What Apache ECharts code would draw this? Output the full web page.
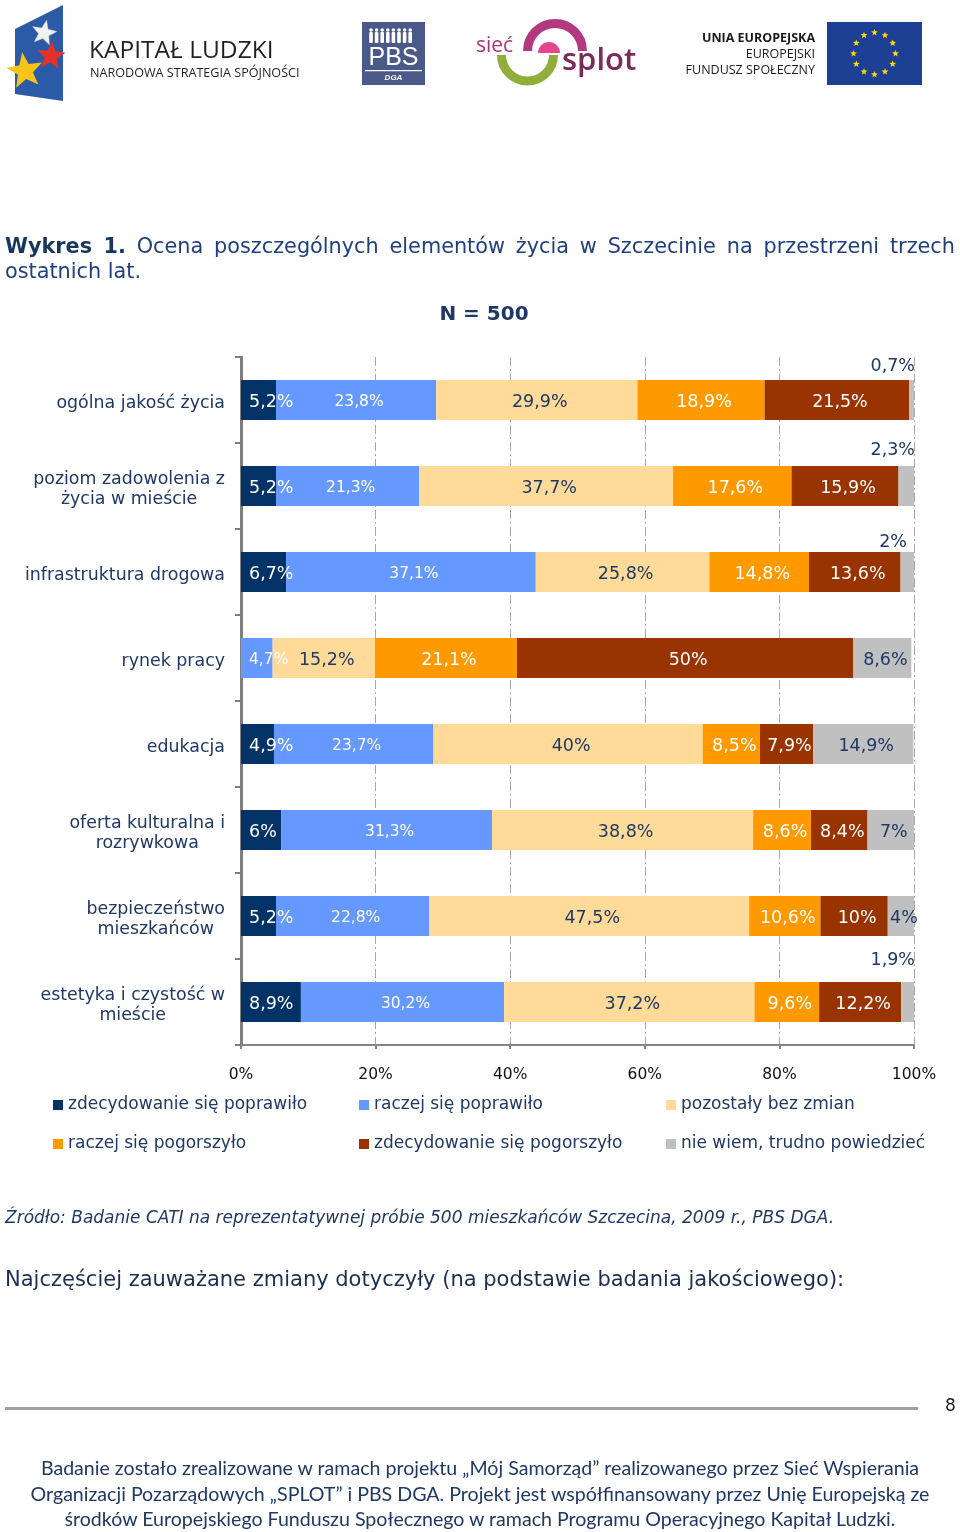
<!DOCTYPE html>
<html>
<head>
<meta charset="utf-8">
<script src="https://cdn.jsdelivr.net/npm/echarts@6/dist/echarts.min.js"></script>
<style>
html,body{margin:0;padding:0;background:#fff;}
#page{position:relative;width:960px;height:1532px;overflow:hidden;background:#fff;}
#chart{position:absolute;left:0;top:0;width:960px;height:1532px;}
.t{position:absolute;font-family:'DejaVu Sans',sans-serif;margin:0;white-space:nowrap;}
#title{left:5px;top:234px;width:950px;font-size:20.8px;line-height:25px;color:#1f3f7f;text-align:justify;white-space:normal;}
#title b{color:#17375e;}
#source{left:5px;top:1207px;font-size:17px;line-height:20px;font-style:italic;color:#1f3864;}
#najcz{left:5px;top:1266px;font-size:21px;line-height:26px;color:#1c2f50;}
#rule{position:absolute;left:5px;top:1407px;width:913px;height:3px;background:#a0a0a0;}
#pnum{left:945px;top:1395px;font-size:17px;line-height:20px;color:#222;}
#footer{left:0;top:1455px;width:960px;text-align:center;font-family:'Lato','Open Sans',sans-serif;font-size:19.6px;line-height:25.5px;color:#1f3864;}
</style>
</head>
<body>
<div id="page">
  <div id="chart"></div>
  <div class="t" id="title"><b>Wykres 1.</b> Ocena poszczególnych elementów życia w Szczecinie na przestrzeni trzech ostatnich lat.</div>
  <div class="t" id="source">Źródło: Badanie CATI na reprezentatywnej próbie 500 mieszkańców Szczecina, 2009 r., PBS DGA.</div>
  <div class="t" id="najcz">Najczęściej zauważane zmiany dotyczyły (na podstawie badania jakościowego):</div>
  <div id="rule"></div>
  <div class="t" id="pnum">8</div>
  <div class="t" id="footer">Badanie zostało zrealizowane w ramach projektu „Mój Samorząd” realizowanego przez Sieć Wspierania<br>Organizacji Pozarządowych „SPLOT” i PBS DGA. Projekt jest współfinansowany przez Unię Europejską ze<br>środków Europejskiego Funduszu Społecznego w ramach Programu Operacyjnego Kapitał Ludzki.</div>
</div>
<script>
// ---------- DATA ----------
const categories = [
  'ogólna jakość życia',
  'poziom zadowolenia z\nżycia w mieście',
  'infrastruktura drogowa',
  'rynek pracy',
  'edukacja',
  'oferta kulturalna i\nrozrywkowa',
  'bezpieczeństwo\nmieszkańców',
  'estetyka i czystość w\nmieście'
];
const seriesNames = [
  'zdecydowanie się poprawiło',
  'raczej się poprawiło',
  'pozostały bez zmian',
  'raczej się pogorszyło',
  'zdecydowanie się pogorszyło',
  'nie wiem, trudno powiedzieć'
];
const zdecydowaniePoprawilo = [5.2, 5.2, 6.7, null, 4.9, 6, 5.2, 8.9];
const raczejPoprawilo       = [23.8, 21.3, 37.1, 4.7, 23.7, 31.3, 22.8, 30.2];
const bezZmian              = [29.9, 37.7, 25.8, 15.2, 40, 38.8, 47.5, 37.2];
const raczejPogorszylo      = [18.9, 17.6, 14.8, 21.1, 8.5, 8.6, 10.6, 9.6];
const zdecydowaniePogorszylo= [21.5, 15.9, 13.6, 50, 7.9, 8.4, 10, 12.2];
const nieWiem               = [0.7, 2.3, 2, 8.6, 14.9, 7, 4, 1.9];
const xTickValues = [0, 20, 40, 60, 80, 100];

// ---------- STYLE ----------
const seriesValues = [zdecydowaniePoprawilo, raczejPoprawilo, bezZmian, raczejPogorszylo, zdecydowaniePogorszylo, nieWiem];
const colors = ['#033366', '#6699FF', '#FFDA98', '#FF9900', '#993300', '#C0C0C0'];
const labelColors = ['#ffffff', '#ffffff', '#1f3864', '#ffffff', '#ffffff', '#1f3864'];
const labelSizes = [17.5, 15.5, 17.5, 17.5, 17.5, 17.5];
const navy = '#1f3864';
const FONT = "'DejaVu Sans', sans-serif";
// label placement for tiny last segments (shown above the bar end): [dx, dy]
const outsideLabelShift = {0: [1, -14], 1: [1, -16], 2: [-7, -10], 7: [1, -22]};

const fmt = v => (v == null || v === '' ? '' : String(v).replace('.', ',') + '%');

const series = seriesValues.map((vals, i) => ({
  name: seriesNames[i],
  type: 'bar',
  stack: 'total',
  barWidth: 40,
  itemStyle: { color: colors[i] },
  label: {
    show: true,
    position: 'inside',
    offset: [3, 2],
    formatter: p => fmt(p.value),
    color: labelColors[i],
    fontSize: labelSizes[i],
    fontFamily: FONT
  },
  data: vals.map((v, j) => {
    const item = { value: v };
    let first = -1;
    for (let k = 0; k < seriesValues.length; k++) { if (seriesValues[k][j]) { first = k; break; } }
    if (first === i) {
      item.label = { position: 'insideLeft', distance: 8, offset: [0, 2] };
    }
    if (i === seriesValues.length - 1 && v != null && v < 3) {
      const s = outsideLabelShift[j] || [0, -15];
      item.label = { position: ['100%', 0], offset: s, align: 'right', verticalAlign: 'middle', color: navy, fontSize: 17.5 };
    }
    return item;
  })
}));

// ---------- DECORATIVE HEADER (logos) ----------
function starPts(cx, cy, R, r, rot) {
  const pts = [];
  for (let k = 0; k < 10; k++) {
    const a = (rot || 0) + k * Math.PI / 5 - Math.PI / 2;
    const rad = k % 2 ? r : R;
    pts.push([cx + rad * Math.cos(a), cy + rad * Math.sin(a)]);
  }
  return pts;
}
const graphic = [];
// Kapitał Ludzki flag
graphic.push({ type: 'polygon', shape: { points: [[15, 29], [63, 5], [63, 101], [15, 94]] }, style: { fill: '#2b5aa6' } });
graphic.push({ type: 'polygon', shape: { points: starPts(44, 33, 13, 5.5, 0.2) }, style: { fill: '#f2f2f2', stroke: '#c9c9c9', lineWidth: 0.5 } });
graphic.push({ type: 'polygon', shape: { points: starPts(51, 56, 15, 6.5, 0.1) }, style: { fill: '#e2322a' } });
graphic.push({ type: 'polygon', shape: { points: starPts(25, 71, 19, 8, -0.15) }, style: { fill: '#f7c41a' } });
graphic.push({ type: 'text', x: 89, y: 51, style: { text: 'KAPITAŁ LUDZKI', fontFamily: "'Open Sans', sans-serif", fontSize: 24.5, fill: '#231f20', verticalAlign: 'middle' } });
graphic.push({ type: 'text', x: 90, y: 73, style: { text: 'NARODOWA STRATEGIA SPÓJNOŚCI', fontFamily: "'Open Sans', sans-serif", fontSize: 12.6, fill: '#231f20', verticalAlign: 'middle' } });
// PBS DGA
graphic.push({ type: 'rect', shape: { x: 362, y: 22, width: 63, height: 63 }, style: { fill: '#4a5987' } });
for (let k = 0; k < 8; k++) {
  const px = 371 + k * 5.6;
  graphic.push({ type: 'circle', shape: { cx: px, cy: 30, r: 1.8 }, style: { fill: '#ffffff' } });
  graphic.push({ type: 'rect', shape: { x: px - 1.8, y: 32, width: 3.6, height: 11, r: 1 }, style: { fill: '#ffffff' } });
}
graphic.push({ type: 'text', x: 393.5, y: 58, style: { text: 'PBS', fontFamily: "'Liberation Sans', Arial, sans-serif", fontSize: 25, fill: '#ffffff', align: 'center', verticalAlign: 'middle' } });
graphic.push({ type: 'rect', shape: { x: 365, y: 70, width: 57, height: 1.2 }, style: { fill: '#ffffff' } });
graphic.push({ type: 'text', x: 393.5, y: 78, style: { text: 'DGA', fontFamily: "'Liberation Sans', Arial, sans-serif", fontSize: 8, fontWeight: 'bold', fontStyle: 'italic', fill: '#ffffff', align: 'center', verticalAlign: 'middle' } });
// sieć splot
graphic.push({ type: 'text', x: 476, y: 46, style: { text: 'sieć', fontFamily: "'Open Sans', sans-serif", fontSize: 21, fill: '#a8367a', verticalAlign: 'middle' } });
graphic.push({ type: 'arc', shape: { cx: 555, cy: 51, r: 27.5, startAngle: Math.PI, endAngle: 2 * Math.PI, clockwise: true }, style: { stroke: '#b2397f', lineWidth: 9, fill: null } });
graphic.push({ type: 'sector', shape: { cx: 549, cy: 53, r0: 0, r: 11, startAngle: Math.PI, endAngle: 2 * Math.PI, clockwise: true }, style: { fill: '#e2468f' } });
graphic.push({ type: 'arc', shape: { cx: 527.5, cy: 55, r: 26, startAngle: 0, endAngle: Math.PI, clockwise: true }, style: { stroke: '#8fae3a', lineWidth: 9, fill: null } });
graphic.push({ type: 'text', x: 562, y: 77, style: { text: 'splot', fontFamily: "'Open Sans', sans-serif", fontWeight: 600, fontSize: 31, fill: '#7b2a5a', verticalAlign: 'bottom' } });
// Unia Europejska
graphic.push({ type: 'text', x: 815, y: 38, style: { text: 'UNIA EUROPEJSKA', fontFamily: "'Open Sans', sans-serif", fontWeight: 'bold', fontSize: 12.5, fill: '#1a1a1a', align: 'right', verticalAlign: 'middle' } });
graphic.push({ type: 'text', x: 815, y: 54, style: { text: 'EUROPEJSKI', fontFamily: "'Open Sans', sans-serif", fontSize: 12.5, fill: '#1a1a1a', align: 'right', verticalAlign: 'middle' } });
graphic.push({ type: 'text', x: 815, y: 70, style: { text: 'FUNDUSZ SPOŁECZNY', fontFamily: "'Open Sans', sans-serif", fontSize: 12.5, fill: '#1a1a1a', align: 'right', verticalAlign: 'middle' } });
graphic.push({ type: 'rect', shape: { x: 827, y: 22, width: 95, height: 63 }, style: { fill: '#1d3f94' } });
for (let k = 0; k < 12; k++) {
  const a = k * Math.PI / 6;
  graphic.push({ type: 'polygon', shape: { points: starPts(874.5 + 21 * Math.cos(a), 53.5 + 21 * Math.sin(a), 3.6, 1.5, 0) }, style: { fill: '#ffdd00' } });
}
// N = 500
graphic.push({ type: 'text', x: 484, y: 315, style: { text: 'N = 500', fontFamily: FONT, fontWeight: 'bold', fontSize: 20, fill: navy, align: 'center', verticalAlign: 'middle' } });

// ---------- CHART ----------
const legendText = { color: navy, fontSize: 17, fontFamily: FONT, lineHeight: 20 };
const legendBase = { orient: 'vertical', top: 1095, padding: 0, itemWidth: 10, itemHeight: 10, itemGap: 19, icon: 'rect', textStyle: legendText, selectedMode: false };

const option = {
  animation: false,
  graphic: graphic,
  legend: [
    Object.assign({}, legendBase, { left: 53, data: [seriesNames[0], seriesNames[3]] }),
    Object.assign({}, legendBase, { left: 359, data: [seriesNames[1], seriesNames[4]] }),
    Object.assign({}, legendBase, { left: 666, data: [seriesNames[2], seriesNames[5]] })
  ],
  grid: { left: 241, right: 46, top: 357, bottom: 487, containLabel: false },
  xAxis: {
    type: 'value',
    min: xTickValues[0],
    max: xTickValues[xTickValues.length - 1],
    interval: xTickValues[1] - xTickValues[0],
    axisLine: { show: true, lineStyle: { color: '#858585', width: 2 } },
    axisTick: { show: true, length: 4, lineStyle: { color: '#858585', width: 2 } },
    axisLabel: { formatter: '{value}%', color: '#111', fontSize: 15.5, fontFamily: FONT, margin: 22 },
    splitLine: { show: true, lineStyle: { color: '#a8a8a8', width: 1, type: [9, 3, 2, 3] } }
  },
  yAxis: {
    type: 'category',
    inverse: true,
    data: categories,
    axisLine: { show: true, lineStyle: { color: '#7f7f7f', width: 3 } },
    axisTick: { show: true, length: 6, lineStyle: { color: '#7f7f7f', width: 2 } },
    axisLabel: {
      margin: 16,
      align: 'right',
      formatter: v => v.split('\n').map(s => '{c|' + s + '}').join('\n'),
      rich: { c: { align: 'center', fontSize: 17.4, lineHeight: 20, color: navy, fontFamily: FONT, padding: [6, 0, 0, 0] } }
    },
    splitLine: { show: false }
  },
  series: series
};

const chart = echarts.init(document.getElementById('chart'));
chart.setOption(option);
</script>
</body>
</html>
